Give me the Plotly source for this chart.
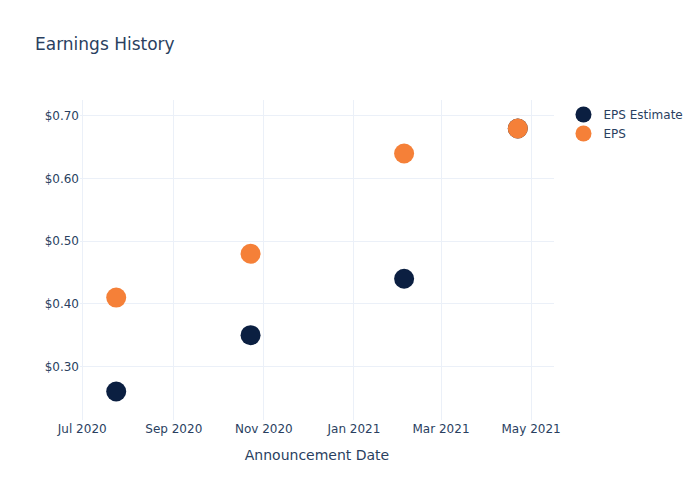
import plotly.graph_objects as go

dates = ["2020-07-24", "2020-10-23", "2021-02-04", "2021-04-22"]
eps_estimate = [0.26, 0.35, 0.44, 0.68]
eps_actual = [0.41, 0.48, 0.64, 0.68]

fig = go.Figure()
fig.add_trace(go.Scatter(x=dates, y=eps_estimate, mode="markers", name="EPS Estimate",
                         marker=dict(size=20, color="#0b1f41")))
fig.add_trace(go.Scatter(x=dates, y=eps_actual, mode="markers", name="EPS",
                         marker=dict(size=20, color="#f58038")))
fig.update_layout(
    template="plotly_white",
    width=700, height=500,
    font=dict(family="DejaVu Sans"),
    title=dict(text="Earnings History"),
    xaxis=dict(title="Announcement Date"),
    yaxis=dict(tickformat="$.2f"),
)
fig.write_html("out.html")
